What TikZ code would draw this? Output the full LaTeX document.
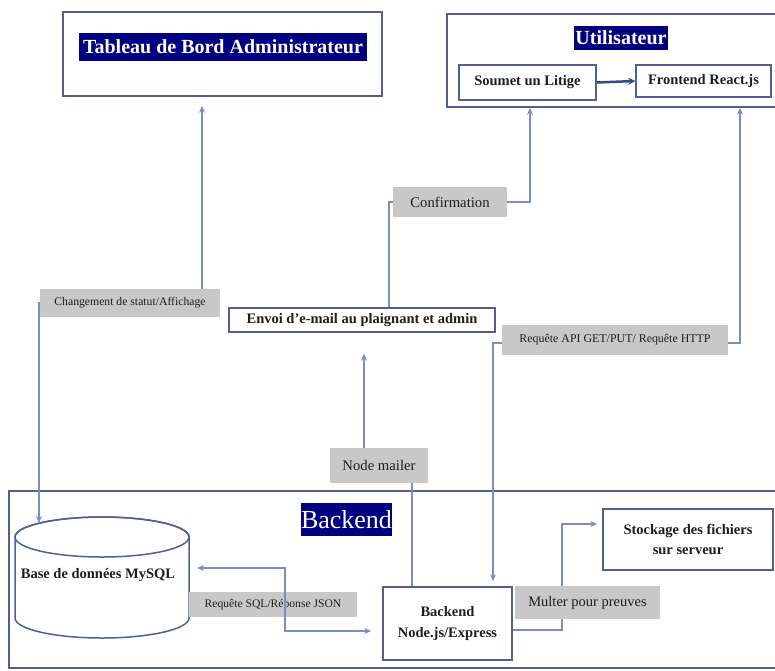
\documentclass[tikz,border=0pt]{standalone}
\usepackage{fontspec}
\setmainfont{Liberation Serif}
\usetikzlibrary{arrows.meta}
\definecolor{boxc}{RGB}{80,95,150}
\definecolor{connc}{RGB}{125,140,195}
\definecolor{lblc}{RGB}{200,200,200}
\definecolor{navyc}{RGB}{0,0,128}
\definecolor{darkarr}{RGB}{55,70,135}
\definecolor{txtc}{RGB}{30,30,30}
\tikzset{
  box/.style={draw=boxc, line width=1.5pt, fill=white, inner sep=0pt, align=center,
    text=txtc, font=\bfseries\fontsize{14.5}{20.5}\selectfont},
  lbl/.style={fill=lblc, inner sep=0pt, align=center, text=txtc},
  ttl/.style={fill=navyc, text=white, inner sep=0pt, align=center},
  conn/.style={draw=connc, line width=1.3pt, >={Stealth[length=7pt,width=6pt]}},
}
\begin{document}
\begin{tikzpicture}[x=1pt,y=-1pt]
\clip (0,0) rectangle (775,670);
\fill[white] (0,0) rectangle (775,670);

% containers
\node[box, minimum width=319pt, minimum height=84pt] (admin) at (222.5,54) {};
\node[ttl, minimum width=288pt, minimum height=28pt, font=\bfseries\fontsize{20}{22}\selectfont] (admint) at (223,47) {Tableau de Bord Administrateur};
\node[box, minimum width=333pt, minimum height=93pt] (user) at (613.5,60.5) {};
\node[ttl, minimum width=94pt, minimum height=24pt, font=\bfseries\fontsize{20}{22}\selectfont] (usert) at (621,38) {Utilisateur};
\node[box, minimum width=137pt, minimum height=35pt] (soumet) at (527.5,82.5) {Soumet un Litige};
\node[box, minimum width=135pt, minimum height=32pt] (front) at (703.5,81) {Frontend React.js};

\draw[box, fill=none] (9,491) rectangle (785,668);
\node[ttl, minimum width=91pt, minimum height=33pt, font=\fontsize{26}{28}\selectfont] (backt) at (346.5,519.5) {Backend};

% database cylinder
\draw[boxc, line width=1.5pt, fill=white] (15,537) -- (15,618)
  arc[start angle=180, end angle=0, x radius=87, y radius=20] -- (189,537)
  arc[start angle=0, end angle=-180, x radius=87, y radius=20] -- cycle;
\draw[boxc, line width=1.5pt] (102,537) ellipse [x radius=87, y radius=20];
\node[inner sep=0pt, minimum width=174pt, minimum height=121pt] (db) at (102,577.5) {};
\node[inner sep=0pt, text=txtc, font=\bfseries\fontsize{14.5}{17}\selectfont] (dbt) at (98,575) {Base de données MySQL};
\coordinate (dbtop) at (39,523);

\node[box, minimum width=266pt, minimum height=24pt] (envoi) at (362,320) {Envoi d'e-mail au plaignant et admin};
\node[box, minimum width=129pt, minimum height=73pt] (bnode) at (447.5,623.5) {Backend\\Node.js/Express};
\node[box, minimum width=170pt, minimum height=61pt] (stock) at (688,539.5) {Stockage des fichiers\\sur serveur};

% connectors (under labels)
\draw[conn,<->,shorten >=9pt] (dbtop) |- (130,303) -| ([xshift=-20.5pt]admin.south);
\draw[conn,->] ([xshift=27pt]envoi.north) |- (450,202) -| (user.south -| 530,0);
\draw[conn,<->,shorten >=5pt] (user.south -| 740,0) |- (615,343) -| (bnode.north -| 493,0);
\draw[conn,->,shorten >=21pt] (bnode.north -| 412,0) |- (379,465.5) -| (envoi.south -| 364,0);
\draw[conn,->,shorten >=5pt] (bnode.east |- 0,630) -| (562,570) |- (stock.west |- 0,524);
\draw[draw=darkarr, line width=2.5pt, -{Stealth[length=7pt,width=7pt]}] (soumet.east) -- (front.west);

% labels
\node[lbl, minimum width=180pt, minimum height=28pt, font=\fontsize{11.7}{13}\selectfont] (chg) at (130,303) {Changement de statut/Affichage};
\node[lbl, minimum width=114pt, minimum height=30pt, font=\fontsize{14.7}{16}\selectfont] (conf) at (450,202) {Confirmation};
\node[lbl, minimum width=226pt, minimum height=30pt, font=\fontsize{11.9}{13}\selectfont] (req) at (615,340) {Requête API GET/PUT/ Requête HTTP};
\node[lbl, minimum width=98pt, minimum height=35pt, font=\fontsize{14.7}{16}\selectfont] (nm) at (379,465.5) {Node mailer};
\node[lbl, minimum width=168pt, minimum height=25pt, font=\fontsize{11.6}{13}\selectfont] (sql) at (273,604.5) {Requête SQL/Réponse JSON};
\node[lbl, minimum width=145pt, minimum height=33pt, font=\fontsize{14.5}{16}\selectfont] (mult) at (587.5,602.5) {Multer pour preuves};

% SQL connector drawn over its label
\draw[conn,<->,shorten <=8pt,shorten >=11pt] (db.east |- 0,568) -| (285,600) |- (bnode.west |- 0,631);
\end{tikzpicture}
\end{document}
